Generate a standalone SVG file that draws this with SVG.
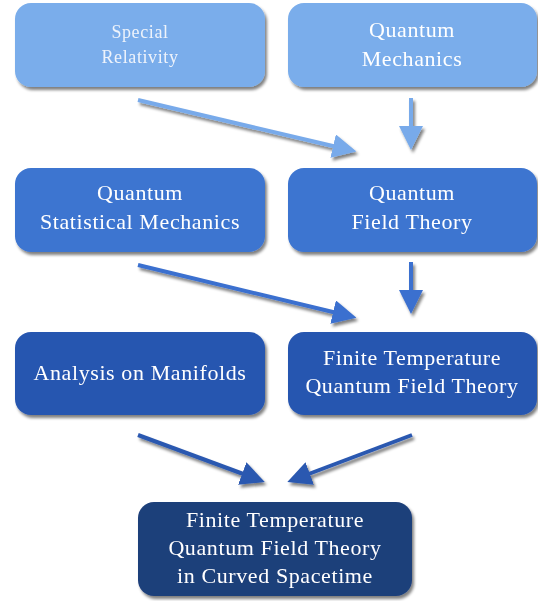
<svg xmlns="http://www.w3.org/2000/svg" width="538" height="601" viewBox="0 0 538 601">
<style>
text{font-family:"Liberation Serif","DejaVu Serif",serif;fill:#ffffff;text-anchor:middle}
.t1{font-size:18px;fill:#eef3fb;letter-spacing:0.6px}
.t{font-size:22px;letter-spacing:0.6px}
.c1{stroke:#78aaea}
.c2{stroke:#3a6fcf}
.c3{stroke:#2b58b0}
.c{stroke-width:4;fill:none}
</style>
<defs>
<filter id="sh" x="-10%" y="-10%" width="125%" height="130%">
<feGaussianBlur in="SourceAlpha" stdDeviation="1.5"/>
<feOffset dx="2" dy="2.5" result="b"/>
<feComponentTransfer><feFuncA type="linear" slope="0.5"/></feComponentTransfer>
<feMerge><feMergeNode/><feMergeNode in="SourceGraphic"/></feMerge>
</filter>
<marker id="a1" markerWidth="6" markerHeight="6" refX="1" refY="3" orient="auto" markerUnits="strokeWidth" viewBox="0 0 6 6"><path d="M0,0 L6,3 L0,6 z" fill="#78aaea"/></marker>
<marker id="a2" markerWidth="6" markerHeight="6" refX="1" refY="3" orient="auto" markerUnits="strokeWidth" viewBox="0 0 6 6"><path d="M0,0 L6,3 L0,6 z" fill="#3a6fcf"/></marker>
<marker id="a3" markerWidth="6" markerHeight="6" refX="1" refY="3" orient="auto" markerUnits="strokeWidth" viewBox="0 0 6 6"><path d="M0,0 L6,3 L0,6 z" fill="#2b58b0"/></marker>
</defs>
<g id="connectors" filter="url(#sh)">
<line class="c c1" x1="138" y1="100" x2="337" y2="147" marker-end="url(#a1)"/>
<line class="c c1" x1="411" y1="98" x2="411" y2="130" marker-end="url(#a1)"/>
<line class="c c2" x1="138" y1="265" x2="337" y2="313" marker-end="url(#a2)"/>
<line class="c c2" x1="411" y1="262" x2="411" y2="294" marker-end="url(#a2)"/>
<line class="c c3" x1="138" y1="435" x2="246" y2="475" marker-end="url(#a3)"/>
<line class="c c3" x1="412" y1="435" x2="306" y2="475" marker-end="url(#a3)"/>
</g>
<g id="n1" filter="url(#sh)"><rect x="15" y="3" width="250" height="84" rx="16" fill="#7aadeb"/><text class="t1" x="140" y="38">Special</text><text class="t1" x="140" y="63">Relativity</text></g>
<g id="n2" filter="url(#sh)"><rect x="288" y="3" width="249" height="84" rx="16" fill="#7aadeb"/><text class="t" x="412" y="37">Quantum</text><text class="t" x="412" y="66">Mechanics</text></g>
<g id="n3" filter="url(#sh)"><rect x="15" y="168" width="250" height="84" rx="16" fill="#3d75d0"/><text class="t" x="140" y="200">Quantum</text><text class="t" x="140" y="229">Statistical Mechanics</text></g>
<g id="n4" filter="url(#sh)"><rect x="288" y="168" width="249" height="84" rx="16" fill="#3d75d0"/><text class="t" x="412" y="200">Quantum</text><text class="t" x="412" y="229">Field Theory</text></g>
<g id="n5" filter="url(#sh)"><rect x="15" y="332" width="250" height="83" rx="16" fill="#2856b0"/><text class="t" x="140" y="380">Analysis on Manifolds</text></g>
<g id="n6" filter="url(#sh)"><rect x="288" y="332" width="249" height="83" rx="16" fill="#2856b0"/><text class="t" x="412" y="365">Finite Temperature</text><text class="t" x="412" y="393">Quantum Field Theory</text></g>
<g id="n7" filter="url(#sh)"><rect x="138" y="502" width="274" height="94" rx="16" fill="#1e3f7a"/><text class="t" x="275" y="527">Finite Temperature</text><text class="t" x="275" y="555">Quantum Field Theory</text><text class="t" x="275" y="583">in Curved Spacetime</text></g>
</svg>
